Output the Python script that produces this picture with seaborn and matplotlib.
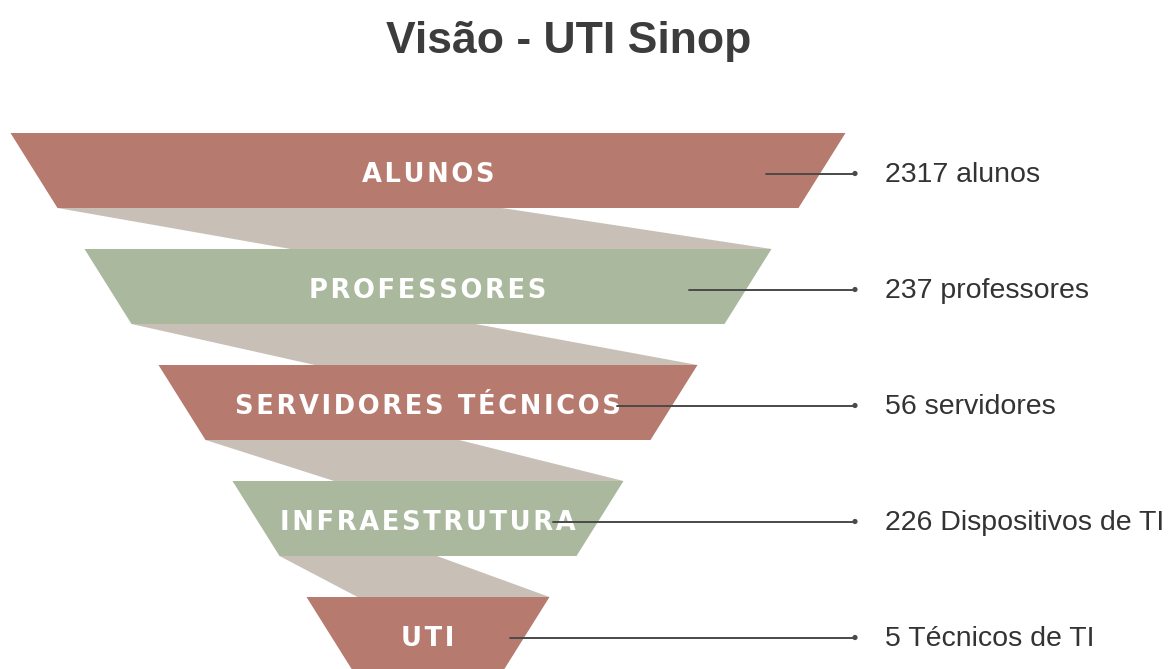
import pandas as pd
import seaborn as sns
import matplotlib.pyplot as plt
from matplotlib.patches import Polygon

# chart content
title = 'Visão - UTI Sinop'
stages = ['ALUNOS', 'PROFESSORES', 'SERVIDORES TÉCNICOS', 'INFRAESTRUTURA', 'UTI']
values = ['2317 alunos', '237 professores', '56 servidores', '226 Dispositivos de TI', '5 Técnicos de TI']
stage_colors = ['#B77A6E', '#AAB89E', '#B77A6E', '#AAB89E', '#B77A6E']

# layout (in pixel units of the 1176x669 canvas)
center_x = 428
top_y = 133
band_h = 75
gap = 41
top_width = 835
width_step = 148
slant = 47
link_low = [0.30, 0.29, 0.26, 0.21]   # where the ribbon lands on the next band
link_up = [0.60, 0.58, 0.57, 0.53]    # where the ribbon leaves the band above
leader_start = [80, 83, 81, 71, 40]   # inset from band top-right
dot_x = 855
value_x = 885

sns.set_theme(style='white')
plt.rcParams['font.family'] = ['DejaVu Sans']

fig = plt.figure(figsize=(11.76, 6.69), dpi=100)
ax = fig.add_axes([0, 0, 1, 1])

bands = []
for i in range(len(stages)):
    y0 = top_y + i * (band_h + gap)
    w = top_width - i * width_step
    tl, tr = center_x - w / 2, center_x + w / 2
    bl, br = tl + slant, tr - slant
    bands.append((y0, tl, tr, bl, br))

# grey ribbons between the bands
for i in range(len(stages) - 1):
    y0, tl, tr, bl, br = bands[i]
    ny0, ntl, ntr, _, _ = bands[i + 1]
    yb = y0 + band_h
    up_r = bl + link_up[i] * (br - bl)
    low_l = ntl + link_low[i] * (ntr - ntl)
    ax.add_patch(Polygon([(bl, yb), (up_r, yb), (ntr, ny0), (low_l, ny0)],
                         closed=True, facecolor='#C8C0B7', edgecolor='none', zorder=1))

rows = []
for i, (name, val, col) in enumerate(zip(stages, values, stage_colors)):
    y0, tl, tr, bl, br = bands[i]
    ax.add_patch(Polygon([(tl, y0), (tr, y0), (br, y0 + band_h), (bl, y0 + band_h)],
                         closed=True, facecolor=col, edgecolor='none', zorder=2))
    yc = y0 + band_h / 2 + 3
    # hair spaces give the tracked-out look of the labels
    ax.text(center_x, yc + 1, '\u200a'.join(name), color='white', fontsize=18.5,
            fontweight='bold', ha='center', va='center', zorder=3)
    ax.plot([tr - leader_start[i], dot_x], [yc, yc], color='#4A4A4A', lw=1.4, zorder=4)
    ax.text(value_x, yc + 1, val, color='#333333', fontsize=20.5, family=['Liberation Sans'],
            ha='left', va='center')
    rows.append({'x': dot_x, 'y': yc})

sns.scatterplot(data=pd.DataFrame(rows), x='x', y='y', ax=ax, s=14,
                color='#4A4A4A', edgecolor='none', zorder=5, legend=False)
ax.set_xlim(0, 1176)
ax.set_ylim(669, 0)
ax.axis('off')

ax.text(569, 41, title, color='#3C3C3C', fontsize=32, fontweight='bold',
        family=['Liberation Sans'], ha='center', va='center')

fig.savefig('out.png', dpi=100)
